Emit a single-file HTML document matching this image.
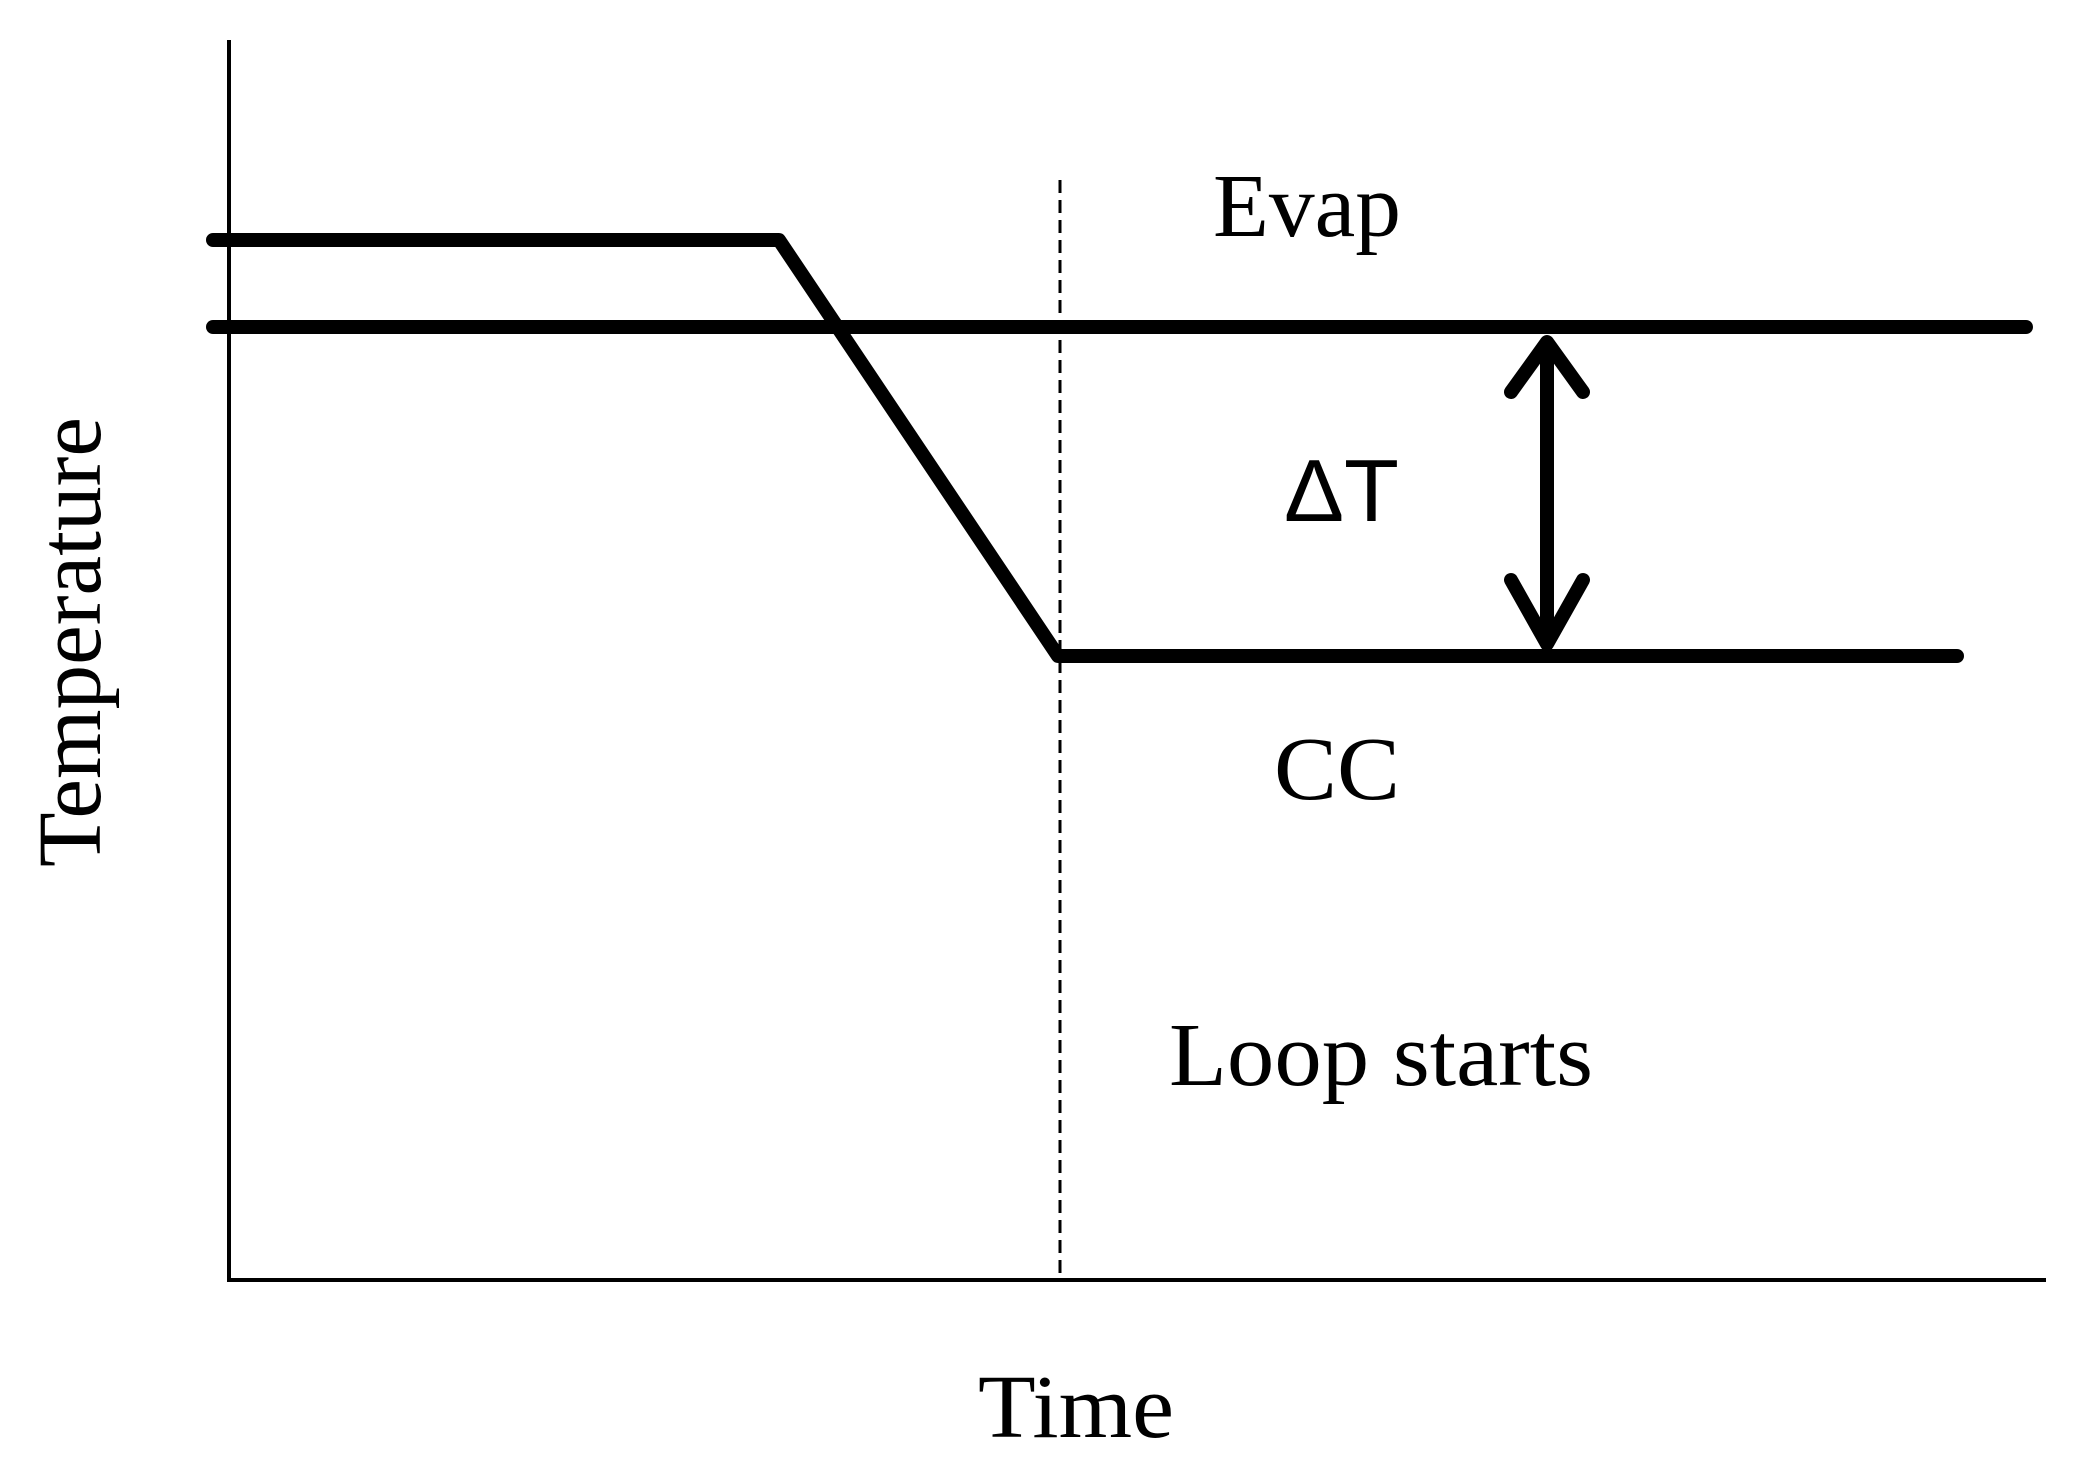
<!DOCTYPE html>
<html><head><style>html,body{margin:0;padding:0;background:#fff}svg{display:block}</style></head>
<body>
<svg width="2077" height="1462" viewBox="0 0 2077 1462" xmlns="http://www.w3.org/2000/svg">
<rect width="2077" height="1462" fill="#fff"/>
<g stroke="#000" fill="none">
<line x1="229" y1="40" x2="229" y2="1280" stroke-width="4"/>
<line x1="227" y1="1280" x2="2046" y2="1280" stroke-width="4"/>
<line x1="1060" y1="180" x2="1060" y2="1280" stroke-width="3" stroke-dasharray="13,7"/>
<polyline points="213,240 779,240 1058,656 1957,656" stroke-width="14" stroke-linecap="round" stroke-linejoin="round"/>
<line x1="213" y1="327" x2="2026" y2="327" stroke-width="14" stroke-linecap="round"/>
<line x1="1547" y1="340" x2="1547" y2="646" stroke-width="14"/>
<polyline points="1511,392 1547,342 1583,392" stroke-width="14" stroke-linecap="round" stroke-linejoin="round"/>
<polyline points="1511,580 1547,644 1583,580" stroke-width="14" stroke-linecap="round" stroke-linejoin="round"/>
</g>
<g font-family="'Liberation Serif', serif" fill="#000">
<text x="1213" y="236" font-size="90" textLength="188" lengthAdjust="spacingAndGlyphs">Evap</text>
<text x="1284" y="521" font-size="88" font-family="'Liberation Sans', sans-serif" textLength="115" lengthAdjust="spacingAndGlyphs">ΔT</text>
<text x="1274" y="799" font-size="90" textLength="126" lengthAdjust="spacingAndGlyphs">CC</text>
<text x="1169" y="1085" font-size="90" textLength="424" lengthAdjust="spacingAndGlyphs">Loop starts</text>
<text x="978" y="1437" font-size="90" textLength="196" lengthAdjust="spacingAndGlyphs">Time</text>
<text x="0" y="0" font-size="90" transform="translate(100,867) rotate(-90)" textLength="450" lengthAdjust="spacingAndGlyphs">Temperature</text>
</g>
</svg>
</body></html>
